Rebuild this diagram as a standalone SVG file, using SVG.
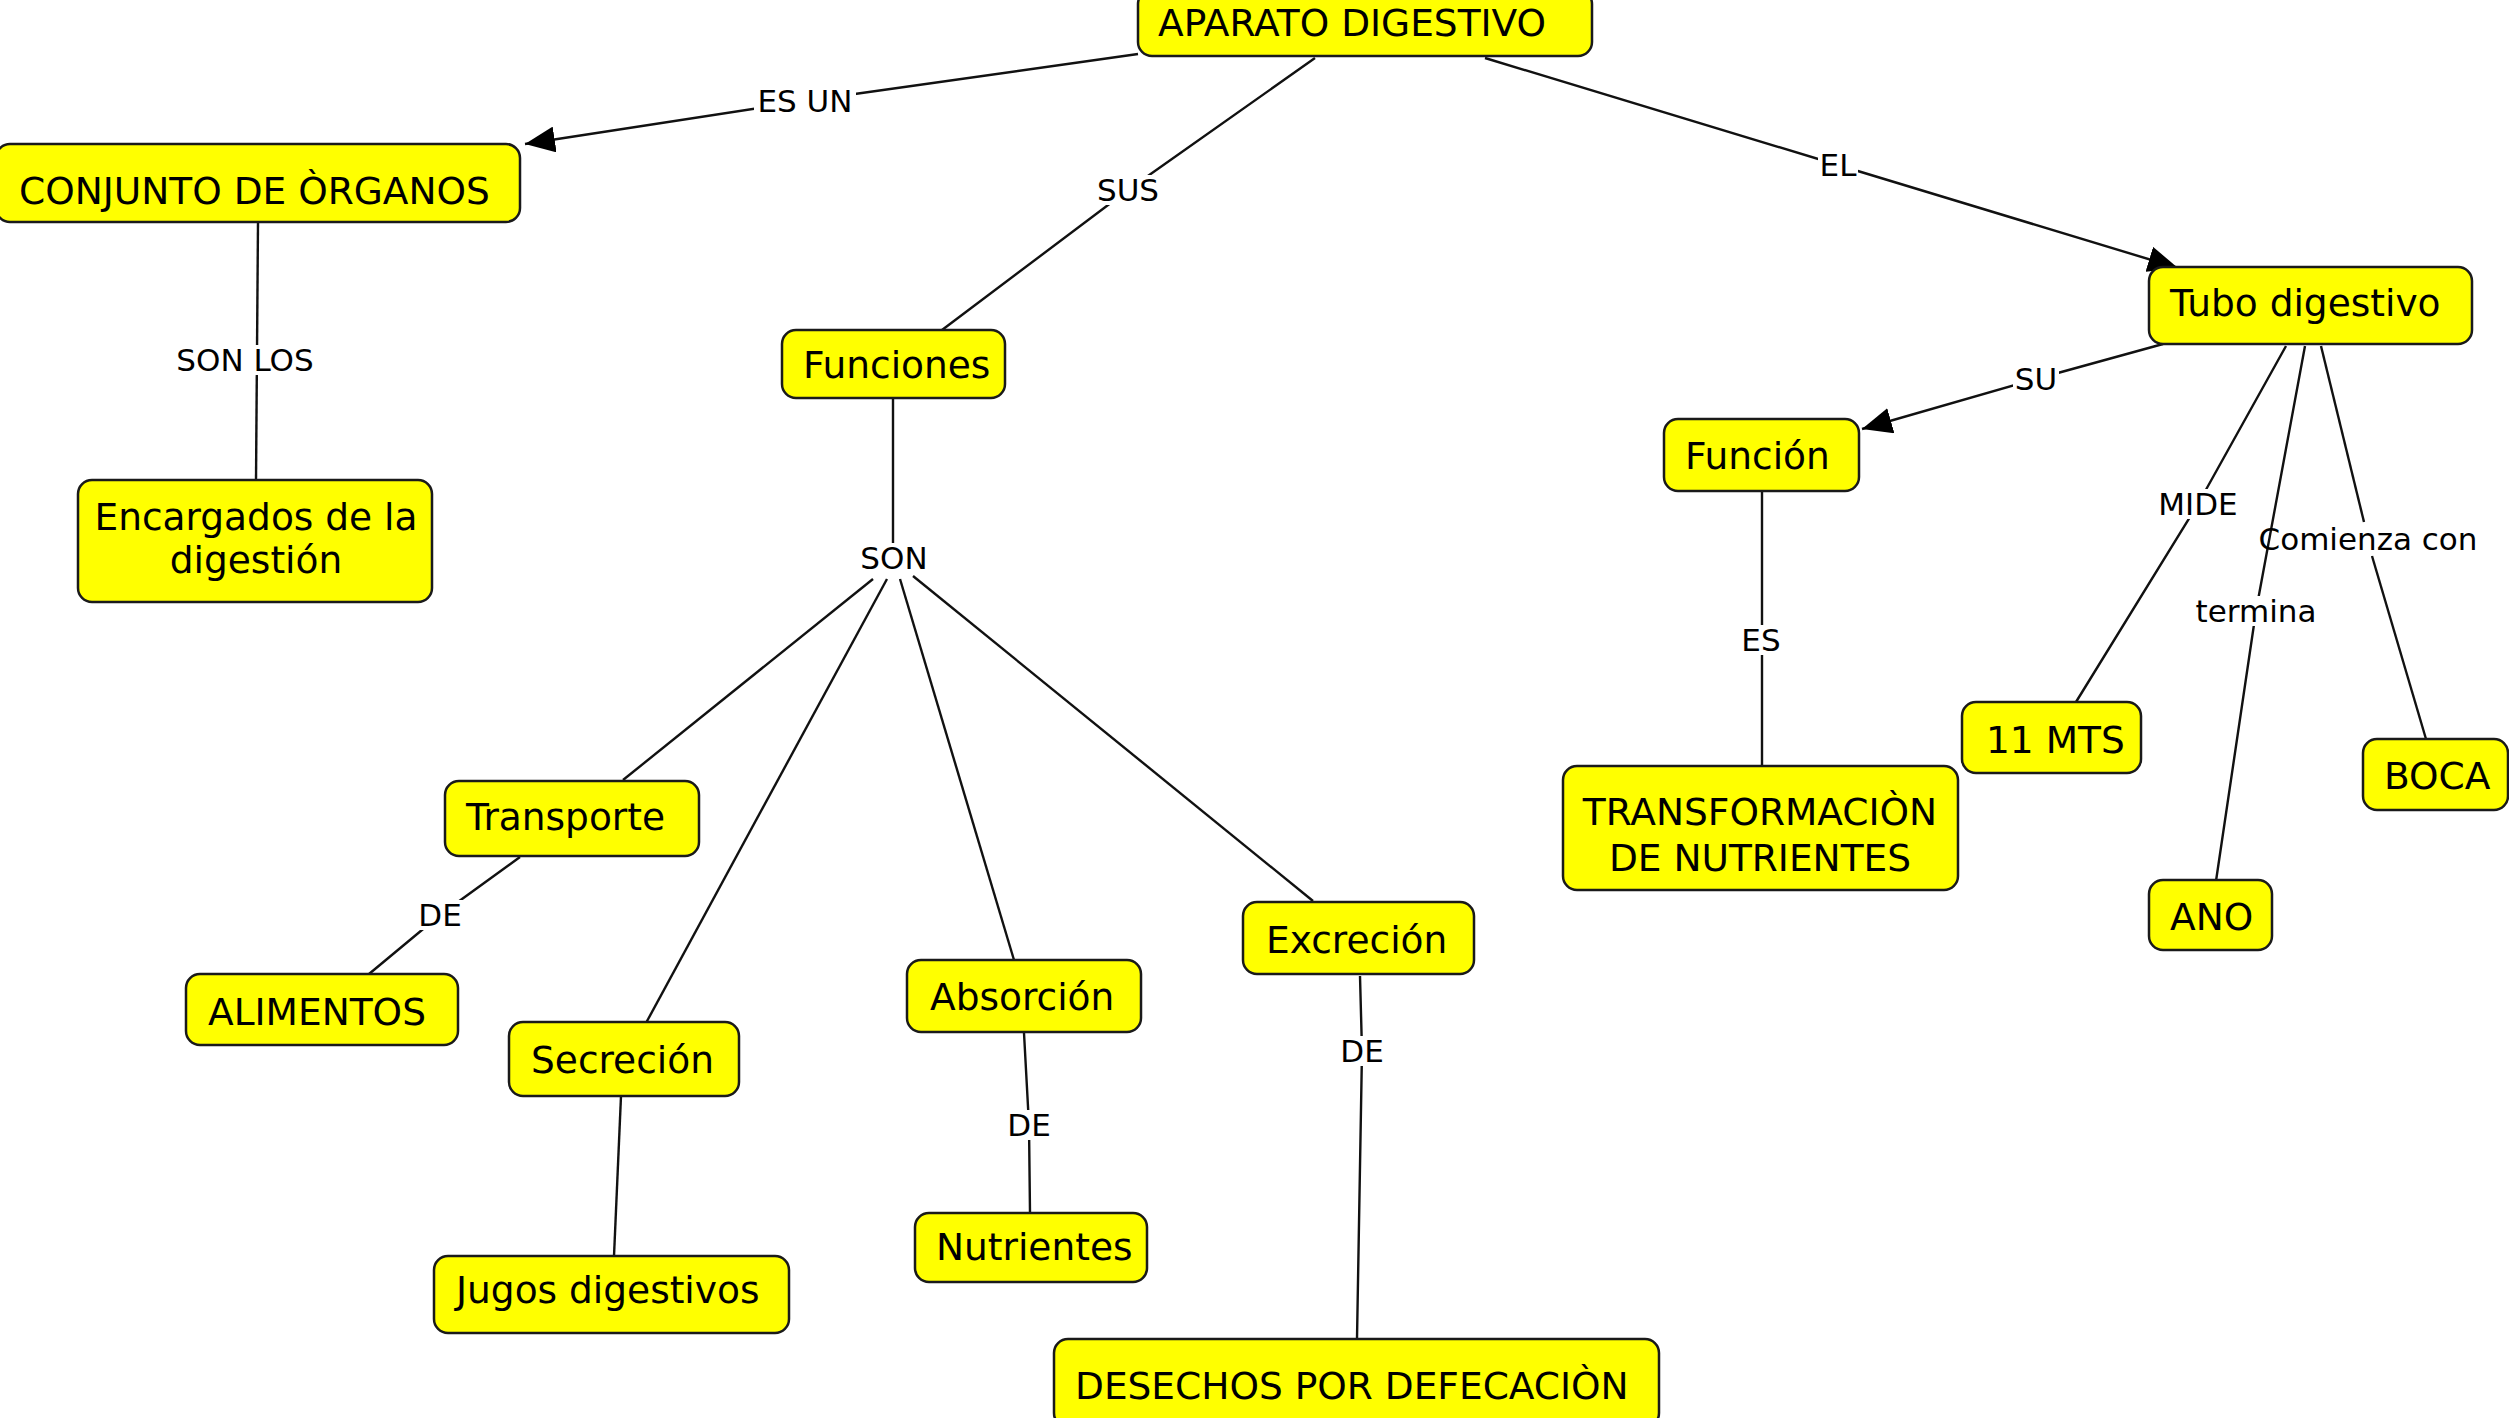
<svg xmlns="http://www.w3.org/2000/svg" width="2509" height="1418" viewBox="0 0 2509 1418">
<style>
.n rect{fill:#ffff00;stroke:#1a1a1a;stroke-width:2.5}
.n text{font-family:"DejaVu Sans",Verdana,sans-serif;font-size:37.5px;fill:#000}
.c path,.c line{fill:none;stroke:#111;stroke-width:2.4}
.l rect{fill:#fff}
.l text{font-family:"DejaVu Sans",Verdana,sans-serif;font-size:31px;fill:#000;text-anchor:middle}
</style>
<defs>
<marker id="ah" markerUnits="userSpaceOnUse" viewBox="0 0 30 26" markerWidth="30" markerHeight="26" refX="30" refY="13" orient="auto">
<path d="M0,0 L30,13 L0,26 z" fill="#000"/>
</marker>
</defs>
<rect width="2509" height="1418" fill="#fff"/>
<g class="c" id="connectors">
<path d="M1138,54 L805,101 L525,144" marker-end="url(#ah)"/>
<path d="M1315,58 L1128,190 L942,330"/>
<path d="M1485,58 L1838,165 L2178,268" marker-end="url(#ah)"/>
<path d="M258,222 L256,480"/>
<path d="M893,398 L893,545"/>
<path d="M873,579 L623,780"/>
<path d="M887,579 L646,1023"/>
<path d="M900,579 L1014,960"/>
<path d="M913,576 L1313,901"/>
<path d="M520,857 L440,915 L369,974"/>
<path d="M621,1096 L614,1256"/>
<path d="M1024,1033 L1029,1125 L1030,1213"/>
<path d="M1360,976 L1362,1051 L1357,1339"/>
<path d="M2163,344 L2036,379 L1862,429" marker-end="url(#ah)"/>
<path d="M1762,491 L1762,766"/>
<path d="M2286,346 L2198,504 L2076,702"/>
<path d="M2305,346 L2256,611 L2216,881"/>
<path d="M2321,346 L2364,522"/>
<path d="M2372,556 L2426,739"/>
</g>
<g class="l" id="link-labels">
<g><rect x="754" y="86" width="102" height="30"/><text x="805" y="112">ES UN</text></g>
<g><rect x="1095" y="175" width="66" height="30"/><text x="1128" y="201">SUS</text></g>
<g><rect x="1818" y="150" width="40" height="30"/><text x="1838" y="176">EL</text></g>
<g><rect x="173" y="345" width="144" height="30"/><text x="245" y="371">SON LOS</text></g>
<g><rect x="859" y="543" width="70" height="30"/><text x="894" y="569">SON</text></g>
<g><rect x="417" y="900" width="46" height="30"/><text x="440" y="926">DE</text></g>
<g><rect x="1006" y="1110" width="46" height="30"/><text x="1029" y="1136">DE</text></g>
<g><rect x="1339" y="1036" width="46" height="30"/><text x="1362" y="1062">DE</text></g>
<g><rect x="2013" y="364" width="46" height="30"/><text x="2036" y="390">SU</text></g>
<g><rect x="1740" y="625" width="42" height="30"/><text x="1761" y="651">ES</text></g>
<g><rect x="2156" y="489" width="84" height="30"/><text x="2198" y="515">MIDE</text></g>
<g><rect x="2195" y="596" width="122" height="30"/><text x="2256" y="622">termina</text></g>
<g><text x="2368" y="550">Comienza con</text></g>
</g>
<g class="n" id="n-aparato"><rect x="1138" y="-10" width="454" height="66" rx="14"/><text x="1158" y="36">APARATO DIGESTIVO</text></g>
<g class="n" id="n-conjunto"><rect x="-4" y="144" width="524" height="78" rx="14"/><text x="19" y="204">CONJUNTO DE ÒRGANOS</text></g>
<g class="n" id="n-encargados"><rect x="78" y="480" width="354" height="122" rx="14"/><text x="256" y="530" text-anchor="middle">Encargados de la</text><text x="256" y="573" text-anchor="middle">digestión</text></g>
<g class="n" id="n-funciones"><rect x="782" y="330" width="223" height="68" rx="14"/><text x="803" y="378">Funciones</text></g>
<g class="n" id="n-transporte"><rect x="445" y="781" width="254" height="75" rx="14"/><text x="466" y="830">Transporte</text></g>
<g class="n" id="n-alimentos"><rect x="186" y="974" width="272" height="71" rx="14"/><text x="208" y="1025">ALIMENTOS</text></g>
<g class="n" id="n-secrecion"><rect x="509" y="1022" width="230" height="74" rx="14"/><text x="531" y="1073">Secreción</text></g>
<g class="n" id="n-jugos"><rect x="434" y="1256" width="355" height="77" rx="14"/><text x="456" y="1303">Jugos digestivos</text></g>
<g class="n" id="n-absorcion"><rect x="907" y="960" width="234" height="72" rx="14"/><text x="930" y="1010">Absorción</text></g>
<g class="n" id="n-nutrientes"><rect x="915" y="1213" width="232" height="69" rx="14"/><text x="936" y="1260">Nutrientes</text></g>
<g class="n" id="n-excrecion"><rect x="1243" y="902" width="231" height="72" rx="14"/><text x="1266" y="953">Excreción</text></g>
<g class="n" id="n-desechos"><rect x="1054" y="1339" width="605" height="88" rx="14"/><text x="1075" y="1399">DESECHOS POR DEFECACIÒN</text></g>
<g class="n" id="n-tubo"><rect x="2149" y="267" width="323" height="77" rx="14"/><text x="2170" y="316">Tubo digestivo</text></g>
<g class="n" id="n-funcion"><rect x="1664" y="419" width="195" height="72" rx="14"/><text x="1685" y="469">Función</text></g>
<g class="n" id="n-transformacion"><rect x="1563" y="766" width="395" height="124" rx="14"/><text x="1760" y="825" text-anchor="middle">TRANSFORMACIÒN</text><text x="1760" y="871" text-anchor="middle">DE NUTRIENTES</text></g>
<g class="n" id="n-11mts"><rect x="1962" y="702" width="179" height="71" rx="14"/><text x="1986" y="753">11 MTS</text></g>
<g class="n" id="n-ano"><rect x="2149" y="880" width="123" height="70" rx="14"/><text x="2170" y="930">ANO</text></g>
<g class="n" id="n-boca"><rect x="2363" y="739" width="145" height="71" rx="14"/><text x="2384" y="789">BOCA</text></g>
</svg>
